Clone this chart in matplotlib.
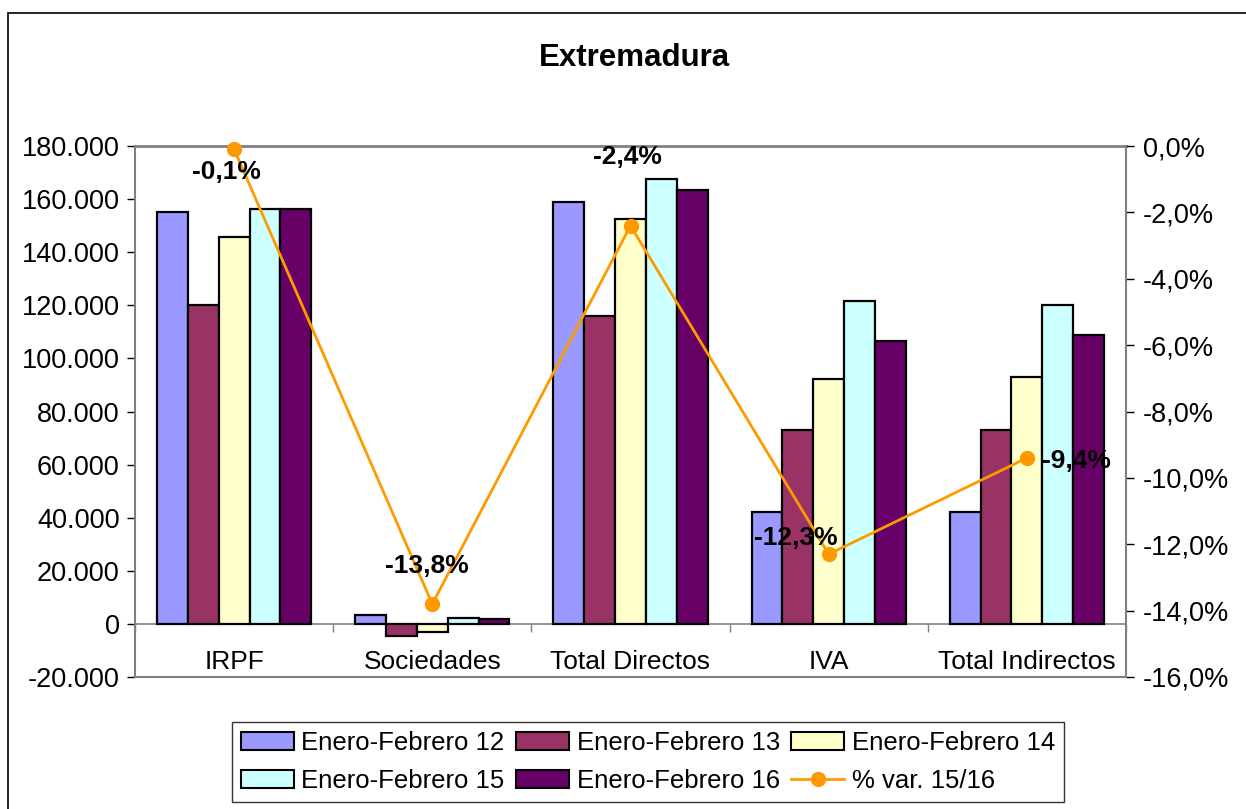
import numpy as np
import matplotlib
matplotlib.use("Agg")
import matplotlib.pyplot as plt
from matplotlib.ticker import FuncFormatter, FixedLocator
from matplotlib.patches import Rectangle
from matplotlib.lines import Line2D

plt.rcParams['font.family'] = ['Liberation Sans', 'DejaVu Sans']

categories = ["IRPF", "Sociedades", "Total Directos", "IVA", "Total Indirectos"]
series_names = ["Enero-Febrero 12", "Enero-Febrero 13", "Enero-Febrero 14",
                "Enero-Febrero 15", "Enero-Febrero 16"]
ef12 = [155000, 3400, 158900, 42300, 42300]
ef13 = [120100, -4500, 116000, 73100, 73100]
ef14 = [145700, -3000, 152500, 92300, 92900]
ef15 = [156300, 2200, 167600, 121600, 120000]
ef16 = [156200, 1900, 163400, 106700, 108700]
pct_var = [-0.1, -13.8, -2.4, -12.3, -9.4]
pct_labels = ["-0,1%", "-13,8%", "-2,4%", "-12,3%", "-9,4%"]
line_name = "% var. 15/16"

colors = ["#9999FF", "#993366", "#FFFFCC", "#CCFFFF", "#660066"]
orange = "#FF9900"
label_offsets = [(-8, -23), (-5, 38), (-3, 69), (-33, 16), (50, -3)]

W, H = 1246, 809
fig = plt.figure(figsize=(W / 100, H / 100), dpi=100)
ax = fig.add_axes([135 / W, (H - 677) / H, 991 / W, 531 / H])

# outer chart border
fig.patches.append(Rectangle((8 / W, -0.05), 1.1, 1 - 13 / H + 0.05, transform=fig.transFigure,
                             fill=False, edgecolor="black", linewidth=1.2, zorder=0))

x = np.arange(len(categories))
series = [ef12, ef13, ef14, ef15, ef16]
bw = 1 / 6.43
for i, (vals, c) in enumerate(zip(series, colors)):
    ax.bar(x + (i - 2) * bw, vals, width=bw, color=c, edgecolor="black",
           linewidth=1.6, zorder=3)

ax.set_xlim(-0.5, len(categories) - 0.5)
ax.set_ylim(-20000, 180000)
ax.set_yticks(np.arange(-20000, 180001, 20000))
ax.yaxis.set_major_formatter(FuncFormatter(lambda v, p: f"{int(v):,}".replace(",", ".")))
ax.tick_params(axis='y', labelsize=19.5, length=6, width=1, direction='out', pad=5, color="black")

# category axis at zero
ax.spines['bottom'].set_position(('data', 0))
ax.spines['bottom'].set_color("#808080")
ax.spines['bottom'].set_linewidth(1.2)
ax.xaxis.set_major_locator(FixedLocator(x))
ax.xaxis.set_minor_locator(FixedLocator(np.arange(len(categories) + 1) - 0.5))
ax.set_xticklabels(categories)
ax.tick_params(axis='x', which='major', length=0, labelsize=19, pad=19)
ax.tick_params(axis='x', which='minor', length=6, width=1, direction='out', color="#808080")
ax.spines['left'].set_color("#808080")
ax.spines['left'].set_linewidth(1.5)
ax.spines['top'].set_color("#808080")
ax.spines['top'].set_linewidth(2)
ax.spines['right'].set_visible(False)
ax.axhline(-20000, color="#808080", linewidth=1.5, clip_on=False, zorder=1)

ax2 = ax.twinx()
ax2.set_ylim(-16, 0)
ax2.set_yticks(np.arange(-16, 0.01, 2))
ax2.yaxis.set_major_formatter(FuncFormatter(lambda v, p: f"{v:.1f}%".replace(".", ",")))
ax2.tick_params(axis='y', labelsize=19.5, length=6, width=1, direction='out', pad=6)
for s in ['top', 'bottom', 'left']:
    ax2.spines[s].set_visible(False)
ax2.spines['right'].set_color("#808080")
ax2.spines['right'].set_linewidth(1.5)
ax2.plot(x, pct_var, color=orange, linewidth=2, marker='o', markersize=10, zorder=5, clip_on=False)
for xi, yi, lab, off in zip(x, pct_var, pct_labels, label_offsets):
    ax2.annotate(lab, (xi, yi), xytext=off, textcoords='offset pixels', ha='center', va='center',
                 fontsize=19, fontweight='bold', zorder=6)

fig.text(634 / W, 1 - 58 / H, "Extremadura", ha='center', va='center', fontsize=22.5, fontweight='bold')

handles = [Rectangle((0, 0), 1, 1, facecolor=c, edgecolor="black", linewidth=1.5) for c in colors]
handles.append(Line2D([], [], color=orange, linewidth=2, marker='o', markersize=10))
labels = series_names + [line_name]
order = [0, 3, 1, 4, 2, 5]
leg = fig.legend([handles[i] for i in order], [labels[i] for i in order], ncol=3,
                 loc='center', bbox_to_anchor=(648 / W, 1 - 762 / H), fontsize=18.5,
                 frameon=True, fancybox=False, edgecolor="black", handlelength=2.05,
                 handleheight=0.7, handletextpad=0.3, columnspacing=0.45, labelspacing=0.55,
                 borderpad=0.35, borderaxespad=0)
leg.get_frame().set_linewidth(1)

fig.savefig("out.png", dpi=100)
